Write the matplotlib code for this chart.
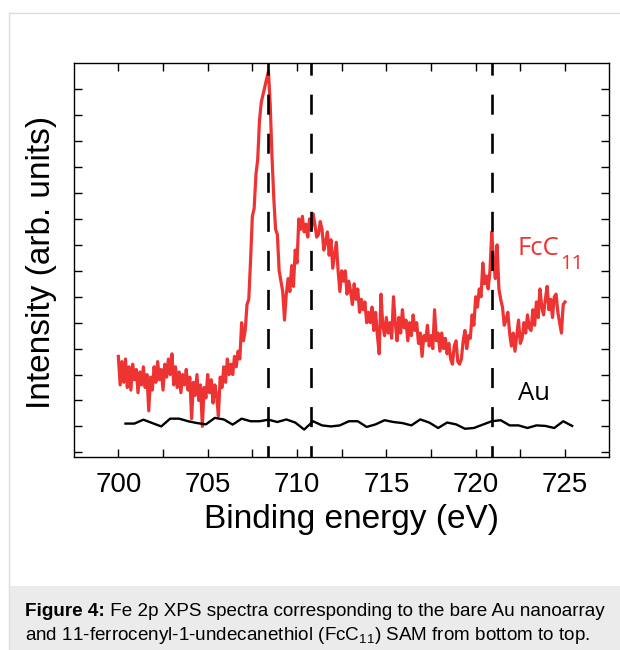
import numpy as np
import matplotlib
matplotlib.use("Agg")
import matplotlib.pyplot as plt
from matplotlib.patches import Rectangle
from matplotlib.lines import Line2D

plt.rcParams['font.family'] = ['Liberation Sans', 'DejaVu Sans']
plt.rcParams['mathtext.fontset'] = 'custom'
plt.rcParams['mathtext.rm'] = 'Liberation Sans'
plt.rcParams['mathtext.bf'] = 'Liberation Sans:bold'
plt.rcParams['mathtext.it'] = 'Liberation Sans:italic'

# ---------------- data ----------------
# FcC11 spectrum, 0.1 eV steps from 700.0 to 725.0 eV (arb. units)
fcc_start, fcc_stop = 700.0, 725.0
fcc_part_a = [  # 700.0 - 706.3
    3.7, 2.6, 3.5, 2.7, 3.6, 2.5, 3.3, 2.4, 3.4, 2.8,
    3.2, 2.3, 3.1, 2.6, 3.3, 2.5, 3.0, 1.6, 2.9, 2.4,
    3.3, 2.7, 3.5, 2.8, 3.2, 2.4, 3.4, 2.9, 3.6, 3.0,
    3.8, 2.6, 3.3, 2.5, 3.1, 2.3, 3.0, 2.6, 3.2, 2.4,
    2.9, 1.3, 2.7, 2.2, 3.0, 2.0, 2.6, 1.0, 2.5, 2.1,
    3.0, 2.3, 2.8, 1.9, 2.6, 2.2, 1.4, 2.9, 2.5, 3.3,
    2.7, 3.6, 3.0, 3.4]
fcc_part_b = [  # 706.4 - 711.0
    3.0, 3.7, 3.3, 3.9, 3.6, 5.0,
    4.3, 4.7, 5.7, 5.9, 7.4, 9.1, 9.4, 10.7, 11.3, 12.8,
    13.5, 13.8, 14.1, 14.4, 14.7, 13.4, 11.4, 9.8, 8.6, 8.4,
    7.0, 6.6, 6.2, 5.1, 6.1, 6.7, 6.2, 7.2, 6.4, 7.8,
    7.3, 9.0, 8.6, 9.1, 8.5, 8.8, 8.3, 9.0, 8.6, 9.2,
    8.8]
fcc_part_c = [  # 711.1 - 718.0
    8.3, 8.4, 8.9, 8.6, 7.8, 8.1, 8.5, 7.6, 8.2,
    7.1, 7.6, 8.1, 7.0, 6.2, 7.0, 6.6, 7.0, 6.1, 6.6,
    6.2, 5.7, 6.5, 5.9, 6.3, 5.4, 5.9, 5.5, 5.8, 5.0,
    5.4, 5.0, 5.6, 4.7, 5.4, 4.5, 3.8, 6.1, 4.9, 4.5,
    5.2, 4.6, 5.0, 4.4, 6.0, 5.0, 4.3, 5.2, 4.6, 5.5,
    4.8, 5.1, 4.3, 5.0, 4.5, 5.3, 4.7, 5.0, 4.2, 4.6,
    3.7, 4.5, 4.3, 4.9, 4.1, 4.5, 4.0, 5.5, 4.3, 4.6,
    3.9]
fcc_part_d = [  # 718.1 - 725.0
    4.6, 4.0, 4.4, 3.8, 4.2, 3.6, 3.4, 4.1, 4.3,
    3.5, 3.4, 3.6, 4.3, 4.7, 4.0, 4.5, 4.4, 5.3, 4.9,
    6.0, 5.6, 6.3, 6.0, 7.3, 6.5, 6.8, 6.3, 7.0, 8.5,
    7.4, 6.7, 8.0, 6.3, 5.9, 5.6, 4.9, 5.1, 5.4, 4.6,
    4.1, 4.6, 3.9, 4.5, 5.1, 4.2, 4.4, 5.0, 4.6, 5.3,
    4.8, 4.7, 5.5, 4.9, 5.8, 5.2, 6.3, 5.6, 5.3, 5.9,
    6.4, 5.5, 5.9, 5.2, 6.0, 6.1, 5.4, 5.0, 4.6, 5.7,
    5.8]
fcc_intensity = fcc_part_a + fcc_part_b + fcc_part_c + fcc_part_d
fcc_energy = np.linspace(fcc_start, fcc_stop, len(fcc_intensity))

# Bare Au, 0.5 eV steps from 700.4 to 725.4 eV
au_start, au_stop = 700.4, 725.4
au_intensity = [
    1.11, 1.11, 1.26, 1.13, 1.00, 1.30, 1.30, 1.20, 1.13, 1.08,
    1.33, 1.27, 1.07, 1.30, 1.20, 1.20, 1.26, 1.17, 1.27, 1.15,
    0.88, 1.20, 1.04, 1.00, 1.04, 1.20, 1.20, 0.98, 1.08, 1.24,
    1.17, 1.13, 1.04, 1.27, 1.15, 0.94, 1.15, 1.08, 0.91, 0.94,
    1.07, 1.20, 1.24, 1.04, 1.04, 0.94, 1.04, 1.02, 0.94, 1.20,
    1.02]
au_energy = np.linspace(au_start, au_stop, len(au_intensity))

peak_positions = [708.35, 710.8, 720.9]
x_major = [700, 705, 710, 715, 720, 725]
x_minor = [702.5, 707.5, 712.5, 717.5, 722.5]
y_ticks = list(range(0, 15))

series_labels = ["FcC", "11", "Au"]
xlabel = "Binding energy (eV)"
ylabel = "Intensity (arb. units)"
caption_bold = "Figure 4:"
caption_line1 = " Fe 2p XPS spectra corresponding to the bare Au nanoarray"
caption_line2 = "and 11-ferrocenyl-1-undecanethiol (FcC$_{11}$) SAM from bottom to top."

# ---------------- figure ----------------
W, H = 620, 650
fig = plt.figure(figsize=(W / 100, H / 100), dpi=100)
fig.patch.set_facecolor('white')

def fx(px):
    return px / W

def fy(py):
    return 1 - py / H

# page frame and caption box
fig.add_artist(Rectangle((fx(9), 0), fx(W + 20) - fx(9), fy(586), transform=fig.transFigure,
                         facecolor='#ebebeb', edgecolor='none', zorder=0))
fig.add_artist(Line2D([fx(9), fx(9)], [0, fy(12.7)], transform=fig.transFigure,
                      color='#dddddd', lw=1.0))
fig.add_artist(Line2D([fx(9), 1.0], [fy(12.7), fy(12.7)], transform=fig.transFigure,
                      color='#dddddd', lw=1.0))

left, right, top, bottom = 73.7, 609.3, 63.3, 457.3
ax = fig.add_axes([fx(left), fy(bottom), fx(right - left), (bottom - top) / H])

red = '#ee3333'
ax.plot(fcc_energy, fcc_intensity, color=red, lw=2.3, zorder=3)
ax.plot(au_energy, au_intensity, color='black', lw=1.7, zorder=3)
for p in peak_positions:
    ax.axvline(p, ymin=1, ymax=0, color='black', lw=1.9,
               linestyle=(3.0, (7.6, 7.2)), dash_capstyle='butt', zorder=4)

ax.set_xlim(697.5, 727.48)
ax.set_ylim(-0.19, 15.0)
ax.set_xticks(x_major)
ax.set_xticks(x_minor, minor=True)
ax.set_yticks(y_ticks)
ax.set_yticklabels([])
ax.tick_params(which='both', direction='in', top=True, right=True,
               length=5.8, width=1.0, labelsize=20, pad=10.5)
for s in ax.spines.values():
    s.set_linewidth(1.0)

ax.set_xlabel(xlabel, fontsize=24, va='baseline')
ax.xaxis.set_label_coords(fx(351.5), fy(528.3), transform=fig.transFigure)
ax.set_ylabel(ylabel, fontsize=24, va='baseline')
ax.yaxis.set_label_coords(fx(50.5), fy(262.5), transform=fig.transFigure)

# series labels
lab_font = ['Open Sans', 'Liberation Sans', 'DejaVu Sans']
t1 = ax.text(fx(517.3), fy(254.5), series_labels[0], transform=fig.transFigure,
             color=red, fontsize=18.5, family=lab_font, va='baseline', ha='left')
ax.annotate(series_labels[1], xy=(1, 0), xycoords=t1, xytext=(1.5, -8),
            textcoords='offset pixels', color=red, fontsize=14.5, family=lab_font,
            va='baseline', ha='left')
ax.text(fx(518.3), fy(400.5), series_labels[2], transform=fig.transFigure,
        color='black', fontsize=18.5, family=lab_font, va='baseline', ha='left')

# caption
cap_size = 13.6
cb = fig.text(fx(25), fy(615.5), caption_bold, fontsize=cap_size, fontweight='bold',
              va='baseline', ha='left')
ax.annotate(caption_line1, xy=(1, 0), xycoords=cb, xytext=(0, 0),
            textcoords='offset pixels', fontsize=cap_size, va='bottom', ha='left',
            annotation_clip=False)
fig.text(fx(25), fy(640.5), caption_line2, fontsize=cap_size, va='baseline', ha='left')

fig.savefig('out.png', dpi=100, facecolor='white')
